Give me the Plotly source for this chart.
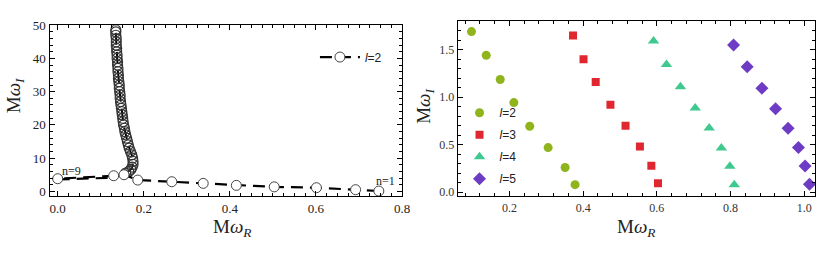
import plotly.graph_objects as go

# ---- Left panel data (l=2 overtones) ----
low_x = [0.746, 0.692, 0.601, 0.503, 0.415, 0.338, 0.265, 0.186, 0.154, 0.130, 0.000]
low_y = [0.1, 0.5, 1.1, 1.35, 1.8, 2.4, 2.9, 3.4, 5.0, 4.7, 3.8]

conn_x = [0.000, 0.130, 0.158]
conn_y = [3.6, 4.1, 5.5]

curve_y = [5.5, 6.0, 6.6, 7.3, 8.1, 9.0, 10.0, 11.0, 12.0, 13.0, 14.0, 15.0, 16.0, 17.0,
           18.0, 19.0, 20.0, 21.0, 22.0, 23.0, 24.0, 25.0, 26.0, 27.0, 28.0, 29.0, 30.0,
           31.0, 32.0, 33.0, 34.0, 35.0, 36.0, 37.0, 38.0, 39.0, 40.0, 41.0, 42.0, 43.0,
           44.0, 45.0, 46.0, 47.0, 48.0, 48.6]
curve_x = [0.158, 0.165, 0.170, 0.173, 0.175, 0.175, 0.174, 0.172, 0.169, 0.166, 0.164,
           0.162, 0.160, 0.158, 0.156, 0.155, 0.153, 0.152, 0.151, 0.150, 0.149, 0.148,
           0.147, 0.146, 0.145, 0.145, 0.144, 0.143, 0.143, 0.142, 0.141, 0.141, 0.140,
           0.140, 0.139, 0.139, 0.138, 0.138, 0.137, 0.137, 0.136, 0.136, 0.136, 0.135,
           0.135, 0.135]

# ---- Right panel data ----
l2_x = [0.097, 0.137, 0.175, 0.212, 0.255, 0.305, 0.351, 0.378]
l2_y = [1.69, 1.44, 1.186, 0.943, 0.694, 0.47, 0.26, 0.08]
l3_x = [0.3725, 0.401, 0.434, 0.474, 0.515, 0.554, 0.585, 0.603]
l3_y = [1.649, 1.40, 1.16, 0.92, 0.70, 0.48, 0.28, 0.095]
l4_x = [0.591, 0.626, 0.664, 0.704, 0.742, 0.775, 0.798, 0.810]
l4_y = [1.59, 1.345, 1.11, 0.886, 0.676, 0.466, 0.273, 0.078]
l5_x = [0.808, 0.845, 0.885, 0.922, 0.956, 0.984, 1.002, 1.014]
l5_y = [1.55, 1.32, 1.095, 0.879, 0.673, 0.47, 0.277, 0.085]

labels = ["<i>l</i>=2", "<i>l</i>=3", "<i>l</i>=4", "<i>l</i>=5"]
colors = ["#8fb41c", "#e0262e", "#3fc98f", "#6e3cc4"]
symbols = ["circle", "square", "triangle-up", "diamond"]
sizes = [9, 8, 10, 10]

SERIF = "Liberation Serif"
SANS = "Liberation Sans"

fig = go.Figure()

dash = "12px,7px"
fig.add_trace(go.Scatter(x=conn_x, y=conn_y, mode="lines",
                         line=dict(color="black", width=2.2, dash=dash),
                         showlegend=False, xaxis="x", yaxis="y"))
fig.add_trace(go.Scatter(x=curve_x, y=curve_y, mode="lines+markers",
                         line=dict(color="black", width=2, dash=dash),
                         marker=dict(symbol="circle-open", size=10, color="#333",
                                     line=dict(width=1.2)),
                         showlegend=False, xaxis="x", yaxis="y"))
fig.add_trace(go.Scatter(x=low_x, y=low_y, mode="lines+markers", name="<i>l</i>=2",
                         line=dict(color="black", width=2.2, dash=dash),
                         marker=dict(symbol="circle", size=10, color="white",
                                     line=dict(color="#444", width=1)),
                         legend="legend", xaxis="x", yaxis="y"))

for xs, ys, lab, c, s, sz in zip([l2_x, l3_x, l4_x, l5_x], [l2_y, l3_y, l4_y, l5_y],
                                 labels, colors, symbols, sizes):
    fig.add_trace(go.Scatter(x=xs, y=ys, mode="markers", name=lab,
                             marker=dict(symbol=s, size=sz, color=c, line=dict(width=0)),
                             legend="legend2", legendgroup=lab,
                             xaxis="x2", yaxis="y2"))

axis_common = dict(showline=True, linecolor="black", linewidth=1.2, mirror="allticks",
                   ticks="inside", ticklen=5, tickcolor="black", showgrid=False,
                   zeroline=False, tickfont=dict(family=SERIF, size=13, color="#222"))


def title_ann(text, x, y, angle=0):
    return dict(text=text, x=x / 830, y=(257 - y) / 257, xref="paper", yref="paper",
                xanchor="center", yanchor="middle", showarrow=False, textangle=angle,
                font=dict(family=SERIF, size=19, color="#222"))


fig.update_layout(
    width=830, height=257,
    margin=dict(l=0, r=0, t=0, b=0),
    plot_bgcolor="white", paper_bgcolor="white",
    xaxis=dict(domain=[50/830, 406/830], range=[-0.019, 0.8], dtick=0.2, tickformat=".1f",
               anchor="y", minor=dict(dtick=0.025, ticks="inside", ticklen=3, tickcolor="black"),
               **axis_common),
    yaxis=dict(domain=[60/257, 238/257], range=[-1.5, 50], dtick=10, anchor="x",
               minor=dict(dtick=2, ticks="inside", ticklen=3, tickcolor="black"),
               **axis_common),
    xaxis2=dict(domain=[462.3/830, 823.3/830], range=[0.06, 1.03], dtick=0.2, tickformat=".1f",
                anchor="y2", minor=dict(dtick=0.04, ticks="inside", ticklen=3, tickcolor="black"),
                **{**axis_common, "tickfont": dict(family=SERIF, size=12, color="#333")}),
    yaxis2=dict(domain=[60.3/257, 242.3/257], range=[-0.04, 1.80], dtick=0.5, tickformat=".1f",
                anchor="x2", minor=dict(dtick=0.1, ticks="inside", ticklen=3, tickcolor="black"),
                **{**axis_common, "tickfont": dict(family=SERIF, size=12, color="#333")}),
    legend=dict(x=318/830, y=(257-37)/257, xanchor="left", yanchor="top",
                bgcolor="rgba(0,0,0,0)", font=dict(family=SANS, size=12, color="#222"),
                itemwidth=40),
    legend2=dict(x=464/830, y=(257-95)/257, xanchor="left", yanchor="top",
                 bgcolor="rgba(0,0,0,0)", font=dict(family=SANS, size=12, color="#222"),
                 traceorder="grouped", tracegroupgap=3, itemwidth=30),
    annotations=[
        dict(text="n=9", x=0.031, y=6.1, xref="x", yref="y", showarrow=False,
             xanchor="center", yanchor="middle",
             font=dict(family=SERIF, size=12, color="#222")),
        dict(text="n=1", x=0.762, y=3.2, xref="x", yref="y", showarrow=False,
             xanchor="center", yanchor="middle",
             font=dict(family=SERIF, size=12, color="#222")),
        title_ann("M<i>ω</i><sub><i>I</i></sub>", 16, 92, -90),
        title_ann("M<i>ω</i><sub><i>R</i></sub>", 234, 230),
        title_ann("M<i>ω</i><sub><i>I</i></sub>", 429, 103, -90),
        title_ann("M<i>ω</i><sub><i>R</i></sub>", 642, 230),
    ],
)

fig.write_html("out.html", config={"displayModeBar": False},
               post_script="document.body.style.margin='0';document.body.style.overflow='hidden';")
